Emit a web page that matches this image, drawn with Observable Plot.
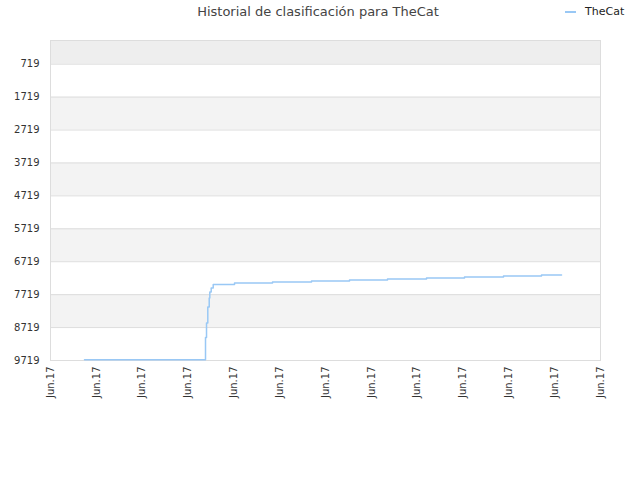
<!DOCTYPE html>
<html>
<head>
<meta charset="utf-8">
<script src="https://cdn.jsdelivr.net/npm/d3@7"></script>
<script src="https://cdn.jsdelivr.net/npm/@observablehq/plot@0.6"></script>
<style>
  body { margin: 0; background: #fff; font-family: "DejaVu Sans", sans-serif; }
  #wrap { position: relative; width: 640px; height: 480px; }
  #title { position: absolute; top: 4px; left: 0; width: 636px; text-align: center; font-size: 13px; color: #444; }
  #legend { position: absolute; top: 5px; left: 565px; font-size: 11px; color: #222; display: flex; align-items: center; }
  #legend span.sw { display: inline-block; width: 11px; height: 2px; background: #99c8f5; margin-right: 9px; }
  svg text { font-family: "DejaVu Sans", sans-serif; }
</style>
</head>
<body>
<div id="wrap">
  <div id="title">Historial de clasificación para TheCat</div>
  <div id="legend"><span class="sw"></span>TheCat</div>
</div>
<script>
// x positions in tick units (0..12), all labelled "Jun.17"
const xTicks = [0,1,2,3,4,5,6,7,8,9,10,11,12];
const xTickLabels = ["Jun.17","Jun.17","Jun.17","Jun.17","Jun.17","Jun.17","Jun.17","Jun.17","Jun.17","Jun.17","Jun.17","Jun.17","Jun.17"];
const yTicks = [719,1719,2719,3719,4719,5719,6719,7719,8719,9719];
const yDomain = [0, 9719];
const xDomain = [0, 12];

// ranking history for TheCat
const seriesX = [0.742, 3.382, 3.404, 3.432, 3.463, 3.476, 3.506, 3.550, 4.015, 4.844, 5.695, 6.524, 7.353, 8.204, 9.033, 9.884, 10.713, 11.150];
const seriesY = [9696, 9018, 8583, 8097, 7823, 7641, 7519, 7407, 7366, 7336, 7307, 7276, 7246, 7215, 7185, 7155, 7124, 7124];

const data = seriesX.map((x, i) => ({x, y: seriesY[i]}));

// alternating bands
const bandEdges = [0, ...yTicks];
const bands = [];
for (let i = 0; i < bandEdges.length - 1; i++) {
  if (i % 2 === 0) bands.push({y1: bandEdges[i], y2: bandEdges[i + 1], fill: i === 0 ? "#eeeeee" : "#f3f3f3"});
}

const chart = Plot.plot({
  width: 640,
  height: 480,
  marginTop: 40,
  marginLeft: 50,
  marginRight: 40,
  marginBottom: 120,
  style: {fontSize: "10px", color: "#333", background: "white"},
  x: {domain: xDomain, ticks: xTicks, tickFormat: (d, i) => xTickLabels[i], tickRotate: -90, tickSize: 0, tickPadding: 6, label: null},
  y: {domain: yDomain, reverse: true, ticks: yTicks, tickFormat: d => String(d), tickSize: 0, tickPadding: 11, label: null},
  marks: [
    Plot.rect(bands, {x1: xDomain[0], x2: xDomain[1], y1: "y1", y2: "y2", fill: "fill"}),
    Plot.ruleY(yTicks, {stroke: "#dddddd"}),
    Plot.frame({stroke: "#dddddd"}),
    Plot.line(data, {x: "x", y: "y", curve: "step-after", stroke: "#99c8f5", strokeWidth: 1.5})
  ]
});
document.getElementById("wrap").prepend(chart);
chart.style.position = "absolute";
chart.style.left = "0";
chart.style.top = "0";
</script>
</body>
</html>
